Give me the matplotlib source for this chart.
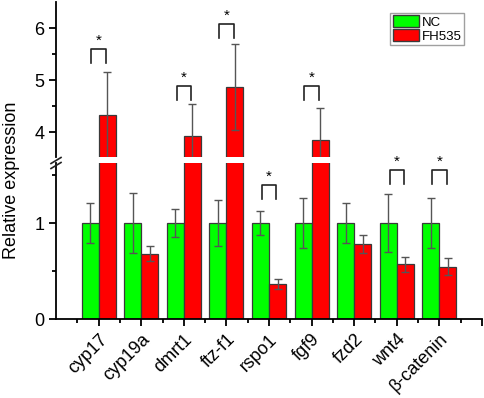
import numpy as np
import matplotlib
matplotlib.use("Agg")
import matplotlib.pyplot as plt
from matplotlib.patches import Patch
from matplotlib.lines import Line2D

plt.rcParams['font.family'] = ['Liberation Sans', 'DejaVu Sans']

genes = ['cyp17', 'cyp19a', 'dmrt1', 'ftz-f1', 'rspo1', 'fgf9', 'fzd2', 'wnt4', 'β-catenin']
nc = [1, 1, 1, 1, 1, 1, 1, 1, 1]
nc_err = [0.21, 0.31, 0.15, 0.24, 0.13, 0.26, 0.21, 0.30, 0.26]
fh = [4.32, 0.68, 3.92, 4.87, 0.365, 3.85, 0.78, 0.57, 0.545]
fh_err = [0.84, 0.08, 0.62, 0.83, 0.05, 0.61, 0.09, 0.08, 0.09]
sig_y = [5.60, None, 4.89, 6.08, 1.40, 4.89, None, 1.555, 1.555]

W, H = 484, 398
fig = plt.figure(figsize=(W / 100, H / 100), dpi=100)
left = 56 / W
width = (482 - 56) / W
ax_hi = fig.add_axes([left, (H - 157) / H, width, (157 - 2) / H])
ax_lo = fig.add_axes([left, (H - 319) / H, width, (319 - 163) / H])

x = np.arange(1, len(genes) + 1)
bw = 0.4
green = '#00FF00'
red = '#FF0000'
ecol = '#3a3a3a'
errc = '#555555'

for ax in (ax_hi, ax_lo):
    ax.bar(x - bw / 2, nc, bw, color=green, edgecolor=ecol, linewidth=0.9, zorder=2)
    ax.bar(x + bw / 2, fh, bw, color=red, edgecolor=ecol, linewidth=0.9, zorder=2)
    ax.errorbar(x - bw / 2, nc, yerr=nc_err, fmt='none', ecolor=errc, elinewidth=1,
                capsize=2.6, capthick=1, zorder=3)
    ax.errorbar(x + bw / 2, fh, yerr=fh_err, fmt='none', ecolor=errc, elinewidth=1,
                capsize=2.6, capthick=1, zorder=3)
    ax.set_xlim(0, 10)
    for s in ('top', 'right'):
        ax.spines[s].set_visible(False)
    ax.spines['left'].set_linewidth(1.3)
    ax.spines['bottom'].set_linewidth(1.3)
    ax.tick_params(axis='both', which='major', direction='out', length=5, width=1.3,
                   labelsize=13)
    ax.tick_params(axis='both', which='minor', direction='out', length=3, width=1.3)

ax_hi.set_ylim(3.52, 6.5)
ax_lo.set_ylim(0, 1.625)
ax_hi.spines['bottom'].set_visible(False)
ax_hi.tick_params(axis='x', which='both', bottom=False, labelbottom=False)
ax_hi.set_yticks([4, 5, 6])
ax_hi.set_yticks([4.5, 5.5], minor=True)
ax_lo.set_yticks([0, 1])
ax_lo.set_yticks([0.5, 1.5], minor=True)

ax_lo.set_xticks(list(x) + [10])
ax_lo.set_xticklabels(genes + [''], rotation=45, ha='right', rotation_mode='anchor',
                      fontsize=13)
ax_lo.set_xticks(np.arange(0.5, 10, 1), minor=True)

# significance brackets
for i, h in enumerate(sig_y):
    if h is None:
        continue
    ax = ax_hi if h > 2 else ax_lo
    leg = 0.27 if h > 2 else 0.146
    x0, x1 = x[i] - bw / 2 + 0.03, x[i] + bw / 2 - 0.03
    ax.plot([x0, x0, x1, x1], [h - leg, h, h, h - leg], color='#222222', lw=1.2,
            clip_on=False, zorder=4)
    ax.annotate('*', xy=((x0 + x1) / 2, h), xytext=(0, 0.5), textcoords='offset points',
                ha='center', va='bottom', fontsize=11, annotation_clip=False)

# axis break marks
for yy in (160.5, 165.5):
    yf = (H - yy) / H
    fig.add_artist(Line2D([(56 - 5) / W, (56 + 5) / W], [yf - 3 / H, yf + 3 / H],
                          color='#222222', lw=1.2, transform=fig.transFigure))

fig.text(12 / W, (H - 180) / H, 'Relative expression', rotation=90, ha='center',
         va='center', fontsize=13)

handles = [Patch(facecolor=green, edgecolor=ecol, label='NC'),
           Patch(facecolor=red, edgecolor=ecol, label='FH535')]
leg = ax_hi.legend(handles=handles, loc='upper right', bbox_to_anchor=(0.958, 0.93),
                   fontsize=9.5, frameon=True, fancybox=False, edgecolor='#888888',
                   handlelength=2.0, handleheight=0.95, handletextpad=0.2,
                   borderpad=0.2, labelspacing=0.05, borderaxespad=0)
leg.get_frame().set_linewidth(1.0)

fig.savefig('out.png', dpi=100)
